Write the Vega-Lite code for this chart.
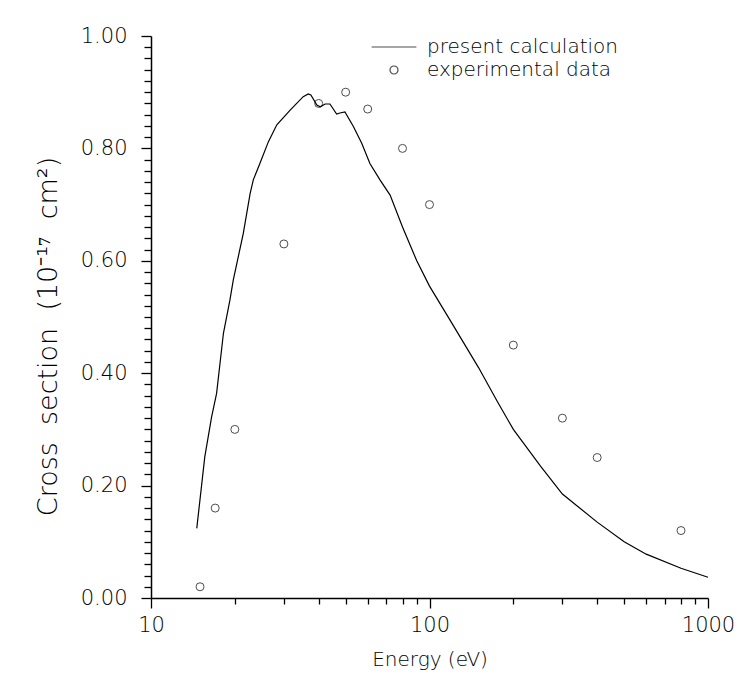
{
  "$schema": "https://vega.github.io/schema/vega-lite/v6.json",
  "autosize": {"type": "none"},
  "width": 557,
  "height": 562,
  "padding": {"left": 151, "top": 36, "right": 38, "bottom": 98},
  "background": "white",
  "config": {
    "view": {"stroke": null},
    "font": "DejaVu Sans",
    "axis": {
      "domainColor": "black",
      "domainWidth": 1.5,
      "tickColor": "black",
      "tickWidth": 1.3,
      "labelColor": "black",
      "titleColor": "black",
      "labelFont": "DejaVu Sans",
      "titleFont": "DejaVu Sans",
      "labelFontWeight": 200,
      "titleFontWeight": 200,
      "grid": false
    },
    "legend": {"labelFont": "DejaVu Sans", "labelFontWeight": 200}
  },
  "datasets": {
    "calc": [
      {"energy": 14.6, "cs": 0.124, "series": "present calculation"},
      {"energy": 15.6, "cs": 0.251, "series": "present calculation"},
      {"energy": 16.5, "cs": 0.322, "series": "present calculation"},
      {"energy": 17.2, "cs": 0.364, "series": "present calculation"},
      {"energy": 18.2, "cs": 0.471, "series": "present calculation"},
      {"energy": 19.2, "cs": 0.530, "series": "present calculation"},
      {"energy": 19.75, "cs": 0.566, "series": "present calculation"},
      {"energy": 21.45, "cs": 0.649, "series": "present calculation"},
      {"energy": 22.7, "cs": 0.720, "series": "present calculation"},
      {"energy": 23.3, "cs": 0.744, "series": "present calculation"},
      {"energy": 24.6, "cs": 0.773, "series": "present calculation"},
      {"energy": 26.4, "cs": 0.812, "series": "present calculation"},
      {"energy": 28.3, "cs": 0.842, "series": "present calculation"},
      {"energy": 31.6, "cs": 0.868, "series": "present calculation"},
      {"energy": 35.2, "cs": 0.892, "series": "present calculation"},
      {"energy": 36.7, "cs": 0.897, "series": "present calculation"},
      {"energy": 37.5, "cs": 0.895, "series": "present calculation"},
      {"energy": 39.4, "cs": 0.877, "series": "present calculation"},
      {"energy": 40.5, "cs": 0.874, "series": "present calculation"},
      {"energy": 42.2, "cs": 0.879, "series": "present calculation"},
      {"energy": 43.9, "cs": 0.879, "series": "present calculation"},
      {"energy": 46.4, "cs": 0.861, "series": "present calculation"},
      {"energy": 47.7, "cs": 0.863, "series": "present calculation"},
      {"energy": 49.7, "cs": 0.865, "series": "present calculation"},
      {"energy": 53.3, "cs": 0.839, "series": "present calculation"},
      {"energy": 57.1, "cs": 0.809, "series": "present calculation"},
      {"energy": 61.1, "cs": 0.773, "series": "present calculation"},
      {"energy": 66.4, "cs": 0.744, "series": "present calculation"},
      {"energy": 72.2, "cs": 0.717, "series": "present calculation"},
      {"energy": 80, "cs": 0.66, "series": "present calculation"},
      {"energy": 90, "cs": 0.60, "series": "present calculation"},
      {"energy": 100, "cs": 0.555, "series": "present calculation"},
      {"energy": 120, "cs": 0.49, "series": "present calculation"},
      {"energy": 150, "cs": 0.41, "series": "present calculation"},
      {"energy": 175, "cs": 0.35, "series": "present calculation"},
      {"energy": 200, "cs": 0.30, "series": "present calculation"},
      {"energy": 250, "cs": 0.235, "series": "present calculation"},
      {"energy": 300, "cs": 0.185, "series": "present calculation"},
      {"energy": 400, "cs": 0.135, "series": "present calculation"},
      {"energy": 500, "cs": 0.10, "series": "present calculation"},
      {"energy": 600, "cs": 0.078, "series": "present calculation"},
      {"energy": 800, "cs": 0.053, "series": "present calculation"},
      {"energy": 1000, "cs": 0.037, "series": "present calculation"}
    ],
    "exp": [
      {"energy": 15, "cs": 0.02, "series": "experimental data"},
      {"energy": 17, "cs": 0.16, "series": "experimental data"},
      {"energy": 20, "cs": 0.30, "series": "experimental data"},
      {"energy": 30, "cs": 0.63, "series": "experimental data"},
      {"energy": 40, "cs": 0.88, "series": "experimental data"},
      {"energy": 50, "cs": 0.90, "series": "experimental data"},
      {"energy": 60, "cs": 0.87, "series": "experimental data"},
      {"energy": 80, "cs": 0.80, "series": "experimental data"},
      {"energy": 100, "cs": 0.70, "series": "experimental data"},
      {"energy": 200, "cs": 0.45, "series": "experimental data"},
      {"energy": 300, "cs": 0.32, "series": "experimental data"},
      {"energy": 400, "cs": 0.25, "series": "experimental data"},
      {"energy": 800, "cs": 0.12, "series": "experimental data"}
    ]
  },
  "layer": [
    {
      "data": {"name": "calc"},
      "mark": {"type": "line", "color": "black", "strokeWidth": 1.2},
      "encoding": {
        "x": {
          "field": "energy", "type": "quantitative",
          "scale": {"type": "log", "domain": [10, 1000], "nice": false},
          "axis": {
            "title": "Energy (eV)",
            "titleFontSize": 20,
            "titlePadding": 14,
            "labelFontSize": 21,
            "labelPadding": 6,
            "tickCount": 100,
            "values": [10, 20, 30, 40, 50, 60, 70, 80, 90, 100, 200, 300, 400, 500, 600, 700, 800, 900, 1000],
            "labelExpr": "(datum.value == 10 || datum.value == 100 || datum.value == 1000) ? format(datum.value, 'd') : ''",
            "tickSize": {"condition": {"test": "datum.value == 10 || datum.value == 100 || datum.value == 1000", "value": 10}, "value": 6},
            "labelFlush": false,
            "labelOverlap": false
          }
        },
        "y": {
          "field": "cs", "type": "quantitative",
          "scale": {"domain": [0, 1], "nice": false},
          "axis": {
            "title": "Cross\u00a0\u00a0section\u00a0\u00a0(10⁻¹⁷\u00a0\u00a0cm²)",
            "titleFontSize": 27,
            "titlePadding": 18,
            "titleY": 300,
            "labelFontSize": 21,
            "labelPadding": 14,
            "tickCount": 100,
            "values": [0, 0.02, 0.04, 0.06, 0.08, 0.1, 0.12, 0.14, 0.16, 0.18, 0.2, 0.22, 0.24, 0.26, 0.28, 0.3, 0.32, 0.34, 0.36, 0.38, 0.4, 0.42, 0.44, 0.46, 0.48, 0.5, 0.52, 0.54, 0.56, 0.58, 0.6, 0.62, 0.64, 0.66, 0.68, 0.7, 0.72, 0.74, 0.76, 0.78, 0.8, 0.82, 0.84, 0.86, 0.88, 0.9, 0.92, 0.94, 0.96, 0.98, 1.0],
            "labelExpr": "abs(datum.value * 5 - round(datum.value * 5)) < 0.000001 ? format(datum.value, '.2f') : ''",
            "tickSize": {"condition": {"test": "abs(datum.value * 5 - round(datum.value * 5)) < 0.000001", "value": 10}, "value": 7},
            "labelFlush": false,
            "labelOverlap": false
          }
        }
      }
    },
    {
      "data": {"name": "exp"},
      "mark": {"type": "point", "filled": false, "stroke": "black", "strokeWidth": 1},
      "encoding": {
        "x": {"field": "energy", "type": "quantitative"},
        "y": {"field": "cs", "type": "quantitative"},
        "shape": {
          "field": "series", "type": "nominal",
          "scale": {"domain": ["present calculation", "experimental data"], "range": ["stroke", "circle"]},
          "legend": {
            "title": null,
            "orient": "none",
            "legendX": 220,
            "legendY": -12,
            "labelFontSize": 20,
            "labelOffset": 10,
            "labelLimit": 400,
            "rowPadding": 3,
            "symbolStrokeColor": "black",
            "symbolStrokeWidth": 1.2,
            "symbolFillColor": "transparent",
            "labelColor": "black"
          }
        },
        "size": {
          "field": "series", "type": "nominal",
          "scale": {"domain": ["present calculation", "experimental data"], "range": [2000, 64]},
          "legend": {
            "title": null,
            "orient": "none",
            "legendX": 220,
            "legendY": -12,
            "labelFontSize": 20,
            "labelOffset": 10,
            "labelLimit": 400,
            "rowPadding": 3,
            "symbolStrokeColor": "black",
            "symbolStrokeWidth": 1.2,
            "symbolFillColor": "transparent",
            "labelColor": "black"
          }
        }
      }
    }
  ]
}
